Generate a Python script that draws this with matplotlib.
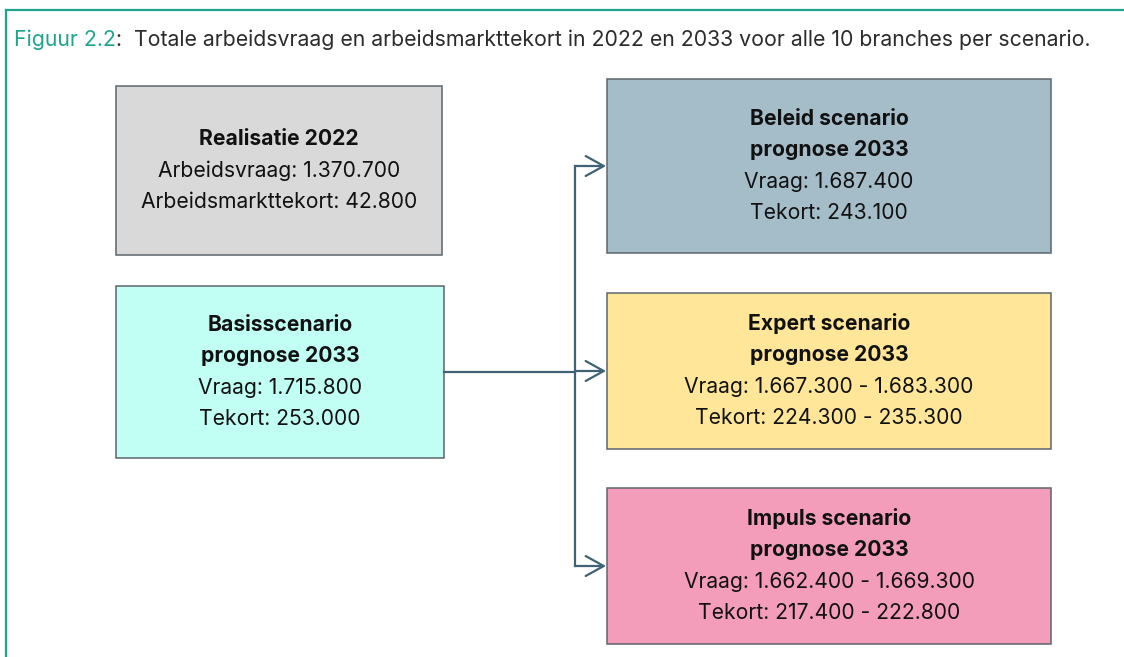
import matplotlib
matplotlib.use("Agg")
import matplotlib.pyplot as plt
from matplotlib.patches import Rectangle, FancyArrowPatch
from matplotlib.lines import Line2D

plt.rcParams['font.family'] = ['Inter', 'DejaVu Sans']

# ---- content ----
title_label = "Figuur 2.2"
title_text = ":  Totale arbeidsvraag en arbeidsmarkttekort in 2022 en 2033 voor alle 10 branches per scenario."

box_titles = [
    ["Realisatie 2022"],
    ["Basisscenario", "prognose 2033"],
    ["Beleid scenario", "prognose 2033"],
    ["Expert scenario", "prognose 2033"],
    ["Impuls scenario", "prognose 2033"],
]
box_lines = [
    ["Arbeidsvraag: 1.370.700", "Arbeidsmarkttekort: 42.800"],
    ["Vraag: 1.715.800", "Tekort: 253.000"],
    ["Vraag: 1.687.400", "Tekort: 243.100"],
    ["Vraag: 1.667.300 - 1.683.300", "Tekort: 224.300 - 235.300"],
    ["Vraag: 1.662.400 - 1.669.300", "Tekort: 217.400 - 222.800"],
]
box_colors = ["#d9d9d9", "#c1fff4", "#a5bcc9", "#ffe699", "#f49dba"]

# ---- layout (pixels) ----
W, H = 1124, 657
boxes = [  # x0, y0, x1, y1
    (116, 86, 442, 255),
    (116, 286, 444, 458),
    (607, 79, 1051, 253),
    (607, 293, 1051, 449),
    (607, 488, 1051, 644),
]
line_gap = 31.5

fig = plt.figure(figsize=(W / 100, H / 100), dpi=100)
ax = fig.add_axes([0, 0, 1, 1])
ax.set_xlim(0, W)
ax.set_ylim(H, 0)
ax.axis('off')

teal = "#1fa58c"
ax.add_line(Line2D([6, 6], [H + 5, 10], color=teal, lw=1.6, solid_capstyle='projecting'))
ax.add_line(Line2D([6, W + 5], [10, 10], color=teal, lw=1.6, solid_capstyle='projecting'))

t1 = ax.text(14, 40, title_label, color=teal, fontsize=15.3, va='center', ha='left')
fig.canvas.draw()
bb = t1.get_window_extent()
x_end = bb.x1
ax.text(x_end, 40, title_text, color="#2b2b2b", fontsize=15.3, va='center', ha='left')

for (x0, y0, x1, y1), col, tl, ll in zip(boxes, box_colors, box_titles, box_lines):
    ax.add_patch(Rectangle((x0, y0), x1 - x0, y1 - y0, facecolor=col,
                           edgecolor="#5c666c", lw=1.1))
    lines = [(t, 'bold') for t in tl] + [(t, 'normal') for t in ll]
    n = len(lines)
    cx, cy = (x0 + x1) / 2, (y0 + y1) / 2
    for i, (t, w) in enumerate(lines):
        y = cy + (i - (n - 1) / 2) * line_gap
        ax.text(cx, y, t, ha='center', va='center', fontsize=15.2,
                fontweight=w, color="#111111")

# connectors
ccol = "#3f6274"
src = boxes[1]
ymid = (src[1] + src[3]) / 2
xv = 575
ax.add_line(Line2D([src[2], xv], [ymid, ymid], color=ccol, lw=1.6))
targets = boxes[2:]
tys = [(b[1] + b[3]) / 2 for b in targets]
ax.add_line(Line2D([xv, xv], [min(tys), max(tys)], color=ccol, lw=1.6))
for b, ty in zip(targets, tys):
    arr = FancyArrowPatch((xv, ty), (b[0] - 1, ty),
                          arrowstyle="->,head_length=0.65,head_width=0.36",
                          mutation_scale=20, color=ccol, lw=1.6,
                          shrinkA=0, shrinkB=0)
    ax.add_patch(arr)

fig.savefig("out.png", dpi=100)
